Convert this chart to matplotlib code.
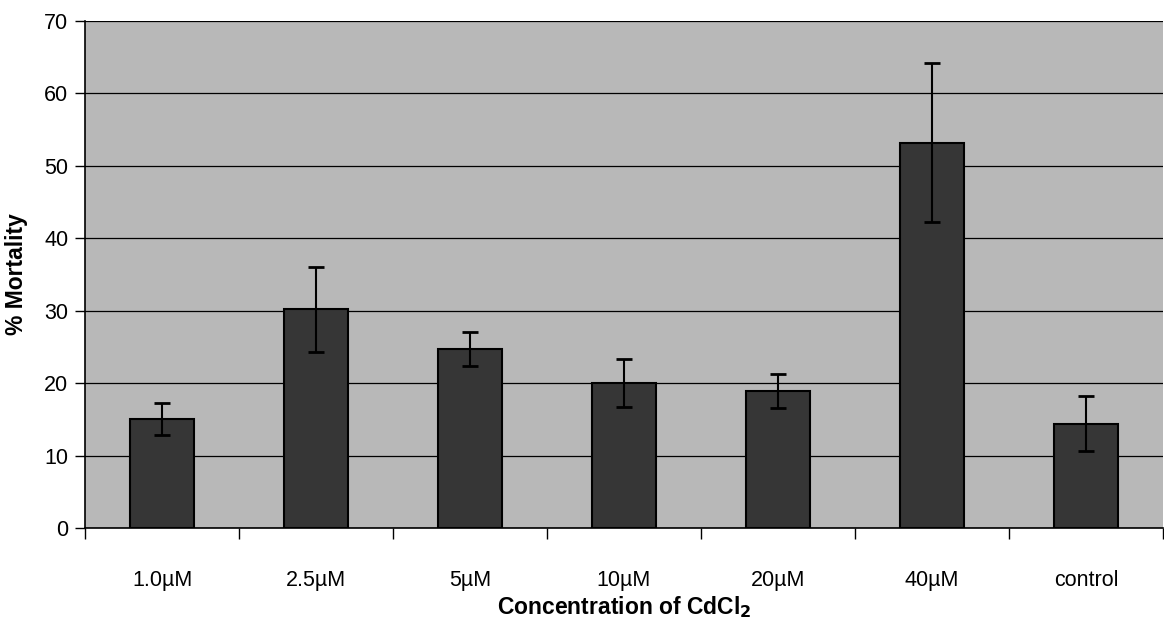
import numpy as np
import matplotlib.pyplot as plt
from matplotlib.ticker import FixedLocator

plt.rcParams['font.family'] = ['Liberation Sans', 'DejaVu Sans']

# Mortality by CdCl2 concentration (mean and error)
concentrations = ['1.0µM', '2.5µM', '5µM', '10µM', '20µM', '40µM', 'control']
mortality = [15.0, 30.2, 24.7, 20.0, 18.9, 53.2, 14.4]
errors = [2.2, 5.9, 2.4, 3.3, 2.3, 11.0, 3.8]

fig = plt.figure(figsize=(11.64, 6.33), dpi=100)
ax = fig.add_axes([85 / 1164, 105 / 633, 1078 / 1164, 507 / 633])

x = np.arange(len(concentrations))
ax.set_facecolor('#b8b8b8')
ax.bar(x, mortality, width=0.42, color='#363636', edgecolor='black',
       linewidth=1.5, zorder=2)
ax.errorbar(x, mortality, yerr=errors, fmt='none', ecolor='black',
            elinewidth=1.5, capsize=6, capthick=2, zorder=3)

ax.set_xlim(-0.5, len(concentrations) - 0.5)
ax.set_ylim(0, 70)
ax.set_yticks(np.arange(0, 71, 10))
ax.yaxis.grid(True, color='black', linewidth=0.9)
ax.set_axisbelow(True)

# category labels centred, tick marks on the category boundaries
ax.set_xticks(x)
ax.set_xticklabels(concentrations)
ax.tick_params(axis='x', which='major', length=0, pad=30, labelsize=15.5)
ax.xaxis.set_minor_locator(FixedLocator(np.arange(-0.5, len(concentrations), 1)))
ax.tick_params(axis='x', which='minor', length=8, width=1)
ax.tick_params(axis='y', length=7, width=1, labelsize=15.5, pad=5)

for side in ['top', 'right']:
    ax.spines[side].set_visible(False)
ax.spines['left'].set_linewidth(1.2)
ax.spines['bottom'].set_linewidth(1.2)

ax.set_ylabel('% Mortality', fontsize=16.5, fontweight='bold', labelpad=12)
ax.set_xlabel('Concentration of CdCl$_\\mathbf{2}$', fontsize=16.5,
              fontweight='bold')
ax.xaxis.set_label_coords(0.5, -0.13)

fig.savefig('out.png', dpi=100)
